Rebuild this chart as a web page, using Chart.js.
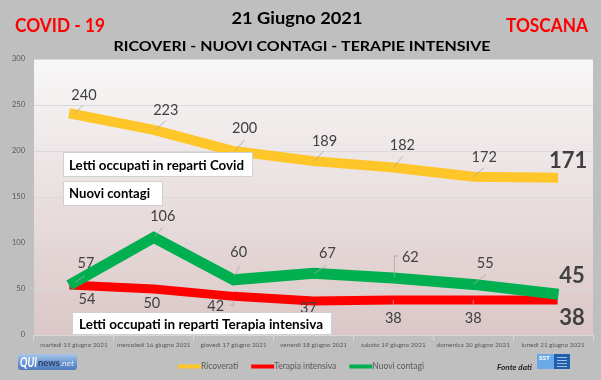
<!DOCTYPE html>
<html><head><meta charset="utf-8">
<script src="https://cdn.jsdelivr.net/npm/chart.js@4/dist/chart.umd.min.js"></script>
<style>html,body{margin:0;padding:0;background:#bfbfbf;overflow:hidden}#wrap{width:601px;height:380px}</style>
</head><body><div id="wrap"><canvas id="c" width="601" height="380"></canvas></div>
<script>
// ---- data ----
const categories = ['martedì 15 giugno 2021','mercoledì 16 giugno 2021','giovedì 17 giugno 2021','venerdì 18 giugno 2021','sabato 19 giugno 2021','domenica 20 giugno 2021','lunedì 21 giugno 2021'];
const ricoverati = [240,223,200,189,182,172,171];
const terapiaIntensiva = [54,50,42,37,38,38,38];
const nuoviContagi = [57,106,60,67,62,55,45];
const seriesNames = ['Ricoverati','Terapia intensiva','Nuovi contagi'];
const yTickValues = [0,50,100,150,200,250,300];
const titleMain = '21 Giugno 2021';
const titleSub = 'RICOVERI - NUOVI CONTAGI - TERAPIE INTENSIVE';
const titleLeft = 'COVID - 19';
const titleRight = 'TOSCANA';
const boxTexts = ['Letti occupati in reparti Covid','Nuovi contagi','Letti occupati in reparti Terapia intensiva'];

// ---- styling / annotation layout ----
const FONT = 'Lato, "Open Sans", sans-serif';
const colors = ['#ffc629','#ff0000','#00b050'];
const widths = [10,9,11];
const labelLayout = [
  [ {o:[10,-19],l:[[0,0],[9,-9]]}, {o:[12,-20],l:[[1,0],[12,-9]]}, {o:[11,-23],l:[[1,0],[11,-11]]},
    {o:[11,-20],l:[[1,0],[10,-10]]}, {o:[9,-22],l:[[0,0],[9,-11]]}, {o:[11,-19],l:[[0,0],[11,-9]]} ],
  [ {o:[13,14]}, {o:[-2,14]}, {o:[-18,10],l:[[0,4],[0,9],[-4,9]]},
    {o:[-5,7]}, {o:[0,18],l:[[0,0],[0,5]]}, {o:[0,18],l:[[0,0],[0,5]]} ],
  [ {o:[12,-19],l:[[1,0],[11,-7]]}, {o:[9,-21],l:[[1,-1],[9,-10]]}, {o:[5,-27],l:[[1,-4],[6,-14]]},
    {o:[14,-20],l:[[1,0],[13,-8]]}, {o:[17,-21],l:[[1,-1],[1,-22],[5,-22]]}, {o:[12,-21],l:[[0,0],[13,-10]]} ]
];
const bigOffsets = [[15,-17],[19,18],[19,-17.5]];

function fitText(ctx, text, x, y, font, targetW, color, align){
  ctx.save();
  ctx.font = font; ctx.fillStyle = color; ctx.textBaseline = 'middle';
  const w = ctx.measureText(text).width;
  const sx = targetW ? targetW / w : 1;
  ctx.translate(x, y); ctx.scale(sx, 1);
  ctx.textAlign = align || 'center';
  ctx.fillText(text, 0, 0);
  ctx.restore();
}

const bgPlugin = {
  id: 'bg',
  beforeDraw(chart){
    const {ctx, chartArea:a} = chart;
    ctx.save();
    ctx.fillStyle = '#bfbfbf'; ctx.fillRect(0,0,chart.width,chart.height);
    const g = ctx.createLinearGradient(0,a.top,0,a.bottom);
    g.addColorStop(0,'#f8f7f7'); g.addColorStop(1,'#dbc7c7');
    ctx.fillStyle = g; ctx.fillRect(a.left,a.top,a.right-a.left,a.bottom-a.top);
    ctx.restore();
  }
};

const labelPlugin = {
  id: 'labels',
  afterDatasetsDraw(chart){
    const ctx = chart.ctx;
    chart.data.datasets.forEach((ds, i) => {
      const meta = chart.getDatasetMeta(i);
      const n = ds.data.length;
      meta.data.forEach((el, j) => {
        if (j === n-1) return;
        const spec = labelLayout[i][j];
        if (spec.l){
          ctx.save(); ctx.strokeStyle = '#a6a6a6'; ctx.lineWidth = 0.8;
          ctx.beginPath();
          spec.l.forEach((p,k)=>{ const px = el.x+p[0], py = el.y+p[1]; k? ctx.lineTo(px,py) : ctx.moveTo(px,py); });
          ctx.stroke(); ctx.restore();
        }
        ctx.save();
        ctx.font = '14.5px ' + FONT; ctx.fillStyle = '#404040';
        ctx.textAlign = 'center'; ctx.textBaseline = 'middle';
        ctx.fillText(String(ds.data[j]), el.x + spec.o[0], el.y + spec.o[1]);
        ctx.restore();
      });
      const last = meta.data[n-1];
      ctx.save();
      ctx.font = 'bold 22px ' + FONT; ctx.fillStyle = '#404040';
      ctx.textAlign = 'center'; ctx.textBaseline = 'middle';
      ctx.fillText(String(ds.data[n-1]), last.x + bigOffsets[i][0], last.y + bigOffsets[i][1]);
      ctx.restore();
    });
  },
  afterDraw(chart){
    const ctx = chart.ctx;
    // text boxes
    const boxes = [
      {x:63,y:152,w:190,h:25,tx:69,tw:175,ty:165},
      {x:63,y:181,w:100,h:25,tx:69,tw:81,ty:193.5},
      {x:72,y:312,w:260,h:23,tx:79,tw:244,ty:324}
    ];
    boxes.forEach((b,k)=>{
      ctx.save();
      ctx.fillStyle = '#ffffff'; ctx.fillRect(b.x,b.y,b.w,b.h);
      ctx.strokeStyle = '#d0d0d0'; ctx.lineWidth = 1; ctx.strokeRect(b.x+0.5,b.y+0.5,b.w-1,b.h-1);
      ctx.restore();
      fitText(ctx, boxTexts[k], b.tx, b.ty, 'bold 14px ' + FONT, b.tw, '#000000', 'left');
    });
    // titles
    fitText(ctx, titleMain, 297, 18.5, 'bold 17px ' + FONT, 131, '#000000');
    fitText(ctx, titleSub, 302, 46.5, 'bold 14px ' + FONT, 377, '#000000');
    fitText(ctx, titleLeft, 60, 26, 'bold 18px ' + FONT, 90, '#ff0000');
    fitText(ctx, titleRight, 547, 26, 'bold 18px ' + FONT, 82, '#ff0000');
    // legend
    ctx.save();
    ctx.font = '8.5px ' + FONT;
    const sw = 23, gap = 13;
    const tws = seriesNames.map(s => ctx.measureText(s).width);
    let total = 0; tws.forEach((w,k)=>{ total += sw + w + (k<tws.length-1?gap:0); });
    let x = chart.width/2 - total/2 + 0.5;
    const ly = 366.5;
    chart.data.datasets.forEach((ds,k)=>{
      ctx.fillStyle = ds.borderColor; ctx.fillRect(x, ly-2, sw, 4);
      ctx.fillStyle = '#595959'; ctx.textAlign='left'; ctx.textBaseline='middle';
      ctx.fillText(ds.label, x+sw, ly);
      x += sw + tws[k] + gap;
    });
    ctx.restore();
    // QUInews logo
    ctx.save();
    const lg = ctx.createLinearGradient(0,354,0,370);
    lg.addColorStop(0,'#a9c6ea'); lg.addColorStop(0.5,'#6f9bd3'); lg.addColorStop(1,'#4d7bbd');
    ctx.fillStyle = lg;
    ctx.beginPath(); ctx.roundRect(18,354,59,16,3); ctx.fill();
    ctx.restore();
    fitText(ctx, 'QUI', 20, 362, 'bold italic 14px ' + FONT, 17, '#ffffff', 'left');
    fitText(ctx, 'news', 38, 363, 'bold 9px ' + FONT, 22, '#2c3e66', 'left');
    fitText(ctx, '.net', 60, 363.5, 'italic 7px ' + FONT, 14, '#dce8f7', 'left');
    // Fonte dati
    fitText(ctx, 'Fonte dati', 497, 367.5, 'bold italic 8px ' + FONT, 35, '#262626', 'left');
    // SST logo
    ctx.save();
    ctx.fillStyle = '#6aa9e6'; ctx.fillRect(537,354,17,15);
    ctx.fillStyle = '#1f5fae'; ctx.fillRect(554,354,16,15);
    ctx.strokeStyle = '#ffffff'; ctx.lineWidth = 0.6;
    for (let k=0;k<4;k++){ ctx.beginPath(); ctx.moveTo(557,357.5+k*3); ctx.lineTo(567,357.5+k*3); ctx.stroke(); }
    ctx.restore();
    fitText(ctx, 'SST', 539, 358, 'bold 6px ' + FONT, 11, '#ffffff', 'left');
  }
};

new Chart(document.getElementById('c'), {
  type: 'line',
  data: {
    labels: categories,
    datasets: [
      {label: seriesNames[0], data: ricoverati, borderColor: colors[0], backgroundColor: colors[0], borderWidth: widths[0], order: 2},
      {label: seriesNames[1], data: terapiaIntensiva, borderColor: colors[1], backgroundColor: colors[1], borderWidth: widths[1], order: 1},
      {label: seriesNames[2], data: nuoviContagi, borderColor: colors[2], backgroundColor: colors[2], borderWidth: widths[2], order: 0}
    ].map(d => Object.assign(d, {pointRadius: 0, pointHoverRadius: 0, tension: 0, fill: false, borderCapStyle: 'square', borderJoinStyle: 'miter'}))
  },
  options: {
    responsive: false, animation: false, events: [],
    layout: {padding: {left: 0, right: 8, top: 59, bottom: 0}},
    plugins: {legend: {display: false}, tooltip: {enabled: false}, title: {display: false}},
    scales: {
      x: {
        offset: true,
        grid: {display: true, drawOnChartArea: false, drawTicks: true, tickLength: 5, offset: true, color: '#d9d9d9'},
        border: {display: true, color: '#d9d9d9'},
        ticks: {font: {family: FONT, size: 6.4}, color: '#595959', maxRotation: 0, minRotation: 0, autoSkip: false, padding: 1},
        afterFit(s){ s.height = 45; }
      },
      y: {
        min: 0, max: 300,
        afterBuildTicks(s){ s.ticks = yTickValues.map(v => ({value: v})); },
        grid: {color: '#d9d9d9', drawTicks: false},
        border: {display: false},
        ticks: {font: {family: FONT, size: 7.5}, color: '#595959', padding: 9},
        afterFit(s){ s.width = 34; }
      }
    }
  },
  plugins: [bgPlugin, labelPlugin]
});
</script>
</body></html>
